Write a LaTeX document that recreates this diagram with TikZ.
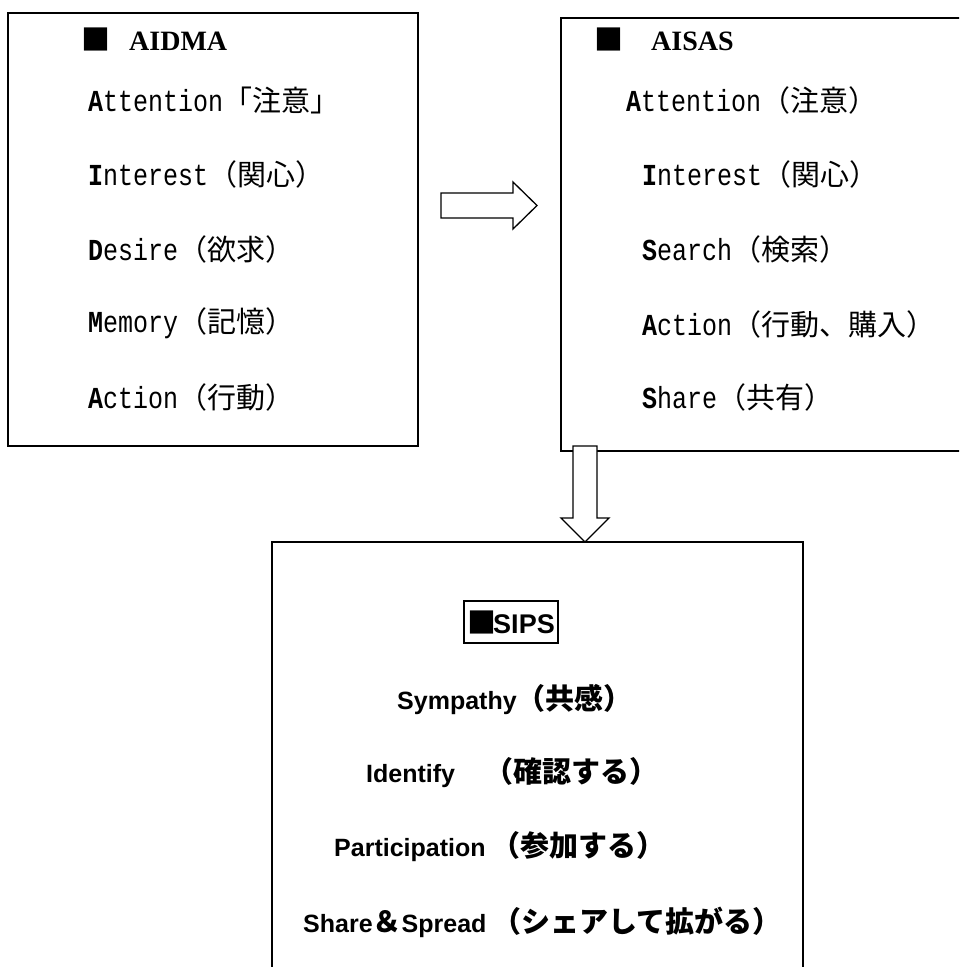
\documentclass[tikz,border=0pt]{standalone}
\usepackage{fontspec}
\setmainfont{Liberation Serif}
\newfontfamily\jpfont{Noto Sans CJK JP}
\newfontfamily\monofnt{Liberation Mono}
\newfontfamily\sansfnt{Liberation Sans}
\newcommand\ML[1]{\scalebox{1}[1.22]{\monofnt\fontsize{25}{30}\selectfont #1}}
\newcommand\JP[1]{{\jpfont\fontsize{29}{30}\selectfont #1}}
\newcommand\SL[1]{{\sansfnt\bfseries\fontsize{25}{30}\selectfont #1}}
\newcommand\SJ[1]{{\jpfont\bfseries\fontsize{29}{30}\selectfont #1}}
\newcommand\TT[1]{{\bfseries\fontsize{28}{30}\selectfont #1}}
\tikzset{
  frame/.style={line width=1.5pt},
  item/.style={anchor=west, inner sep=0pt},
  blockarrow/.style={draw, fill=white, line width=1.3pt, line join=miter},
}
\begin{document}
\begin{tikzpicture}[x=1pt,y=-1pt]
\useasboundingbox (0,0) rectangle (959,967);
\fill[white] (0,0) rectangle (959,967);
\clip (0,0) rectangle (959,967);
% boxes
\draw[frame] (8,13) rectangle (418,446);
\draw[frame] (975,18) -- (561,18) -- (561,451) -- (975,451);
\draw[frame] (272,980) -- (272,542) -- (803,542) -- (803,980);
% AIDMA
\node[item] (t1) at (81,39) {\JP{■}\hspace{19pt}\TT{AIDMA}};
\node[item] (a1) at (88,100) {\ML{\textbf{A}ttention}\JP{「注意」}};
\node[item] (a2) at (88,174) {\ML{\textbf{I}nterest}\JP{（関心）}};
\node[item] (a3) at (88,249) {\ML{\textbf{D}esire}\JP{（欲求）}};
\node[item] (a4) at (88,323) {\ML{\textbf{M}emory}\JP{（記憶）}};
\node[item] (a5) at (88,397) {\ML{\textbf{A}ction}\JP{（行動）}};
% AISAS
\node[item] (t2) at (594,39) {\JP{■}\hspace{28pt}\TT{AISAS}};
\node[item] (b1) at (626,100) {\ML{\textbf{A}ttention}\JP{（注意）}};
\node[item] (b2) at (642,174) {\ML{\textbf{I}nterest}\JP{（関心）}};
\node[item] (b3) at (642,249) {\ML{\textbf{S}earch}\JP{（検索）}};
\node[item] (b4) at (642,324) {\ML{\textbf{A}ction}\JP{（行動、購入）}};
\node[item] (b5) at (642,397) {\ML{\textbf{S}hare}\JP{（共有）}};
% arrows
\draw[blockarrow] (441,193) -- (513,193) -- (513,182) -- (537,205.5) -- (513,229) -- (513,218) -- (441,218) -- cycle;
\draw[blockarrow] (573,446) -- (597,446) -- (597,518) -- (609,518) -- (585,542) -- (561,518) -- (573,518) -- cycle;
% SIPS
\node[draw, line width=1.2pt, inner sep=0pt, minimum width=94pt, minimum height=42pt] (s0) at (511,622) {\SJ{■}\hspace{-3pt}\SL{\fontsize{27}{30}\selectfont SIPS}};
\node[item] (s1) at (397,700) {\SL{Sympathy}\SJ{（共感）}};
\node[item] (s2) at (366,773) {\SL{Identify}\SJ{　（確認する）}};
\node[item] (s3) at (334,847) {\SL{Participation}\hspace{6pt}\SJ{（参加する）}};
\node[item] (s4) at (303,922) {\SL{Share}\SJ{＆}\SL{Spread}\hspace{6pt}\SJ{（シェアして拡がる）}};
\end{tikzpicture}
\end{document}
